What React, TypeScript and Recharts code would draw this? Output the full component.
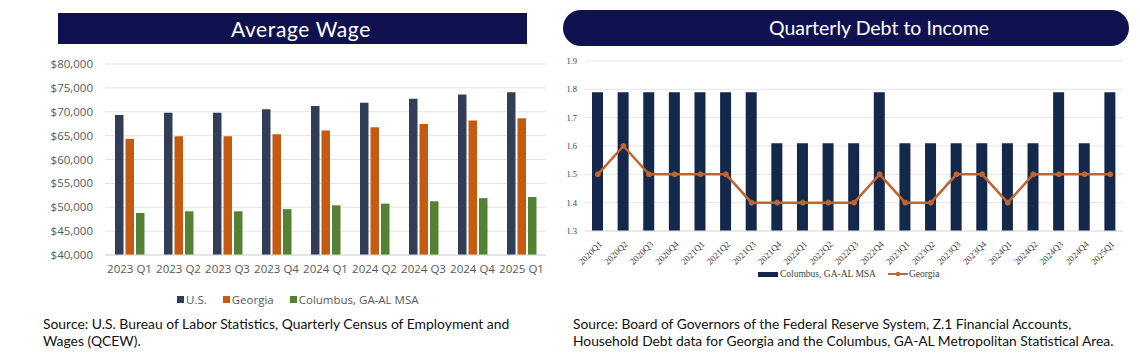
import React from 'react';
import { BarChart, Bar, XAxis, YAxis, CartesianGrid, ComposedChart, Line } from 'recharts';

const wageQuarters = ['2023 Q1', '2023 Q2', '2023 Q3', '2023 Q4', '2024 Q1', '2024 Q2', '2024 Q3', '2024 Q4', '2025 Q1'];
const usWage = [69300, 69800, 69800, 70500, 71200, 71900, 72700, 73600, 74100];
const georgiaWage = [64300, 64850, 64850, 65300, 66050, 66750, 67450, 68150, 68650];
const columbusWage = [48800, 49150, 49150, 49600, 50400, 50750, 51250, 51900, 52150];
const wageTicks = [40000, 45000, 50000, 55000, 60000, 65000, 70000, 75000, 80000];

const dtiQuarters = ['2020Q1', '2020Q2', '2020Q3', '2020Q4', '2021Q1', '2021Q2', '2021Q3', '2021Q4', '2022Q1', '2022Q2', '2022Q3', '2022Q4', '2023Q1', '2023Q2', '2023Q3', '2023Q4', '2024Q1', '2024Q2', '2024Q3', '2024Q4', '2025Q1'];
const columbusDti = [1.79, 1.79, 1.79, 1.79, 1.79, 1.79, 1.79, 1.61, 1.61, 1.61, 1.61, 1.79, 1.61, 1.61, 1.61, 1.61, 1.61, 1.61, 1.79, 1.61, 1.79];
const georgiaDti = [1.5, 1.6, 1.5, 1.5, 1.5, 1.5, 1.4, 1.4, 1.4, 1.4, 1.4, 1.5, 1.4, 1.4, 1.5, 1.5, 1.4, 1.5, 1.5, 1.5, 1.5];
const dtiTicks = [1.3, 1.4, 1.5, 1.6, 1.7, 1.8, 1.9];

const wageData = wageQuarters.map((q, i) => ({ q, us: usWage[i], ga: georgiaWage[i], col: columbusWage[i] }));
const dtiData = dtiQuarters.map((q, i) => ({ q, col: columbusDti[i], ga: georgiaDti[i] }));

const NAVY = '#10124f';
const US_C = '#323e56';
const GA_C = '#c55a11';
const COL_C = '#548235';
const DTI_BAR = '#14284b';
const DTI_LINE = '#c0652e';
const SANS = 'Lato, "Open Sans", sans-serif';
const AXIS_FONT = '"Open Sans", sans-serif';
const SERIF = '"Liberation Serif", "DejaVu Serif", serif';

const fmtMoney = (v: number) => '$' + v.toLocaleString('en-US');

const RotTick = (props: any) => {
  const { x, y, payload } = props;
  return (
    <g transform={`translate(${x + 2},${y + 3})`}>
      <text x={0} y={0} dy={4} textAnchor="end" transform="rotate(-45)" fontSize={9} fontFamily={SERIF} fill="#404040">
        {payload.value}
      </text>
    </g>
  );
};

const Sq = ({ color }: { color: string }) => (
  <span style={{ display: 'inline-block', width: 7, height: 7, background: color, marginRight: 2, verticalAlign: 'middle', position: 'relative', top: -1 }} />
);

export default function App() {
  return (
    <div style={{ position: 'absolute', left: 0, top: 0, width: 1140, height: 362, background: '#fff', overflow: 'hidden' }}>
      {/* Left title */}
      <div style={{ position: 'absolute', left: 58, top: 13, width: 469, height: 31, background: NAVY, color: '#fff', fontFamily: SANS, fontSize: 21, letterSpacing: 0.6, lineHeight: '31px' }}>
        <span style={{ position: 'absolute', left: 173 }}>Average Wage</span>
      </div>
      <div style={{ position: 'absolute', left: 0, top: 0 }}>
        <BarChart width={560} height={290} data={wageData} margin={{ top: 64, right: 14, left: 0, bottom: 0 }} barGap={2}>
          <CartesianGrid vertical={false} stroke="#e3e3e3" />
          <XAxis dataKey="q" height={35} tickLine={false} tickSize={4} tickMargin={6} axisLine={{ stroke: '#d9d9d9' }} interval={0}
            tick={{ fontSize: 11.5, fontFamily: AXIS_FONT, fill: '#595959' }} />
          <YAxis width={105} domain={[40000, 80000]} ticks={wageTicks} tickFormatter={fmtMoney} axisLine={false} tickLine={false} tickSize={6} tickMargin={6}
            tick={{ fontSize: 11.5, fontFamily: AXIS_FONT, fill: '#595959' }} />
          <Bar dataKey="us" name="U.S." fill={US_C} barSize={8.5} isAnimationActive={false} />
          <Bar dataKey="ga" name="Georgia" fill={GA_C} barSize={8.5} isAnimationActive={false} />
          <Bar dataKey="col" name="Columbus, GA-AL MSA" fill={COL_C} barSize={8.5} isAnimationActive={false} />
        </BarChart>
      </div>
      {/* Left legend */}
      <div style={{ position: 'absolute', left: 177, top: 292, fontFamily: AXIS_FONT, fontSize: 11.5, color: '#595959', whiteSpace: 'nowrap' }}>
        <Sq color={US_C} />U.S.
        <span style={{ display: 'inline-block', width: 16 }} />
        <Sq color={GA_C} />Georgia
        <span style={{ display: 'inline-block', width: 16 }} />
        <Sq color={COL_C} />Columbus, GA-AL MSA
      </div>
      <div style={{ position: 'absolute', left: 43, top: 315, width: 520, fontFamily: SANS, fontSize: 13.9, lineHeight: '17px', color: '#111', whiteSpace: 'nowrap' }}>
        Source: U.S. Bureau of Labor Statistics, Quarterly Census of Employment and<br />Wages (QCEW).
      </div>

      {/* Right title */}
      <div style={{ position: 'absolute', left: 563, top: 10, width: 566, height: 36, borderRadius: 18, background: NAVY, color: '#fff', fontFamily: SANS, fontSize: 19.5, lineHeight: '36px' }}>
        <span style={{ position: 'absolute', left: 206 }}>Quarterly Debt to Income</span>
      </div>
      <div style={{ position: 'absolute', left: 560, top: 0 }}>
        <ComposedChart width={570} height={290} data={dtiData} margin={{ top: 61, right: 7, left: 0, bottom: 0 }}>
          <CartesianGrid vertical={false} stroke="#e6e6e6" />
          <XAxis dataKey="q" height={59} interval={0} tickLine={false} axisLine={{ stroke: '#e0e0e0' }} tick={<RotTick />} />
          <YAxis width={25} domain={[1.3, 1.9]} ticks={dtiTicks} tickFormatter={(v: number) => v.toFixed(1)} axisLine={false} tickLine={false} tickSize={4} tickMargin={4}
            tick={{ fontSize: 8.5, fontFamily: SERIF, fill: '#404040' }} />
          <Bar dataKey="col" name="Columbus, GA-AL MSA" fill={DTI_BAR} barSize={11} isAnimationActive={false} />
          <Line dataKey="ga" name="Georgia" stroke={DTI_LINE} strokeWidth={2.5} dot={{ r: 2.5, fill: DTI_LINE, stroke: DTI_LINE, strokeWidth: 1 }} isAnimationActive={false} />
        </ComposedChart>
      </div>
      {/* Right legend */}
      <div style={{ position: 'absolute', left: 758, top: 269, fontFamily: SERIF, fontSize: 9.5, color: '#404040', whiteSpace: 'nowrap', display: 'flex', alignItems: 'center' }}>
        <span style={{ display: 'inline-block', width: 20, height: 5, background: DTI_BAR, marginRight: 2 }} />
        <span>Columbus, GA-AL MSA</span>
        <span style={{ display: 'inline-block', width: 12 }} />
        <svg width={20} height={8} style={{ marginRight: 1 }}>
          <line x1={0} y1={4} x2={20} y2={4} stroke={DTI_LINE} strokeWidth={2} />
          <circle cx={10} cy={4} r={2.2} fill={DTI_LINE} />
        </svg>
        <span>Georgia</span>
      </div>
      <div style={{ position: 'absolute', left: 573, top: 315, width: 566, fontFamily: SANS, fontSize: 13.8, lineHeight: '17px', color: '#111', whiteSpace: 'nowrap' }}>
        Source: Board of Governors of the Federal Reserve System, Z.1 Financial Accounts,<br />Household Debt data for Georgia and the Columbus, GA-AL Metropolitan Statistical Area.
      </div>
    </div>
  );
}
